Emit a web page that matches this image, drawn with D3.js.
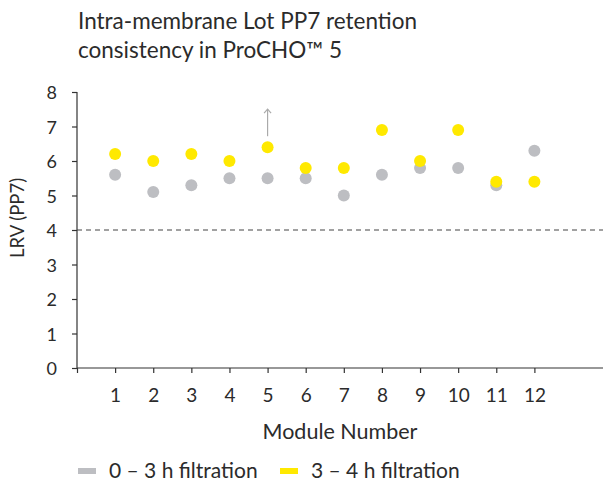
<html>
<head>
<meta charset="UTF-8">
<title>PP7 retention</title>
<script src="https://cdn.jsdelivr.net/npm/d3@7"></script>
<style>
  body { margin:0; background:#fff; }
  svg text { font-family: Lato, "Open Sans", sans-serif; fill:#2b2b2b; }
</style>
</head>
<body>
<svg id="chart" width="603" height="481"></svg>
<script>
// data
var modules = [1,2,3,4,5,6,7,8,9,10,11,12];
var early = [5.6,5.1,5.3,5.5,5.5,5.5,5.0,5.6,5.8,5.8,5.3,6.3];   // 0 - 3 h
var late  = [6.2,6.0,6.2,6.0,6.4,5.8,5.8,6.9,6.0,6.9,5.4,5.4];   // 3 - 4 h
var yTicks = [0,1,2,3,4,5,6,7,8];
var limit = 4;
var arrowAt = 5;   // module with ">" value
var seriesNames = ["0 \u2013 3 h filtration", "3 \u2013 4 h filtration"];
var colors = ["#bdbec2", "#ffe900"];

var svg = d3.select("#chart");

var x = d3.scaleLinear().domain([0, 13.8]).range([77, 603]);
var y = d3.scaleLinear().domain([0, 8]).range([368, 92]);

// title
svg.append("text").attr("x", 78).attr("y", 29).attr("font-size", 22.5).text("Intra-membrane Lot PP7 retention");
svg.append("text").attr("x", 78).attr("y", 58).attr("font-size", 22.5).text("consistency in ProCHO\u2122 5");

// y axis
var yAxis = svg.append("g").attr("transform", "translate(77,0)")
    .call(d3.axisLeft(y).tickValues(yTicks).tickSize(5).tickPadding(15));
yAxis.selectAll("text").attr("font-size", 18).attr("dy", "0.38em");
// x axis
var xAxis = svg.append("g").attr("transform", "translate(0," + y(0) + ")")
    .call(d3.axisBottom(x).tickValues([0].concat(modules)).tickSize(5).tickPadding(16)
      .tickFormat(function(d){ return d === 0 ? "" : d; }));
xAxis.selectAll("text").attr("font-size", 19);
svg.selectAll(".domain, .tick line").attr("stroke", "#333").attr("stroke-width", 1.2);
svg.selectAll(".domain").attr("d", function(){
  return this.parentNode === yAxis.node() ? "M0," + y(8) + "V" + y(0) : "M" + x(0) + ",0H603";
});

// limit line
svg.append("line").attr("x1", x(0)).attr("x2", 603).attr("y1", y(limit)).attr("y2", y(limit))
  .attr("stroke", "#444").attr("stroke-width", 1.2).attr("stroke-dasharray", "5,4");

// points
[early, late].forEach(function(vals, k){
  svg.append("g").selectAll("circle").data(vals).enter().append("circle")
    .attr("cx", function(d, i){ return x(modules[i]); })
    .attr("cy", function(d){ return y(d); })
    .attr("r", 6)
    .attr("fill", colors[k]);
});

// arrow above module 5
var ax = x(arrowAt), ay = y(late[modules.indexOf(arrowAt)]);
svg.append("line").attr("x1", ax).attr("x2", ax).attr("y1", ay - 11).attr("y2", ay - 38)
  .attr("stroke", "#aaa").attr("stroke-width", 1.2);
svg.append("path").attr("d", "M" + (ax - 3.5) + "," + (ay - 34) + "L" + ax + "," + (ay - 38) + "L" + (ax + 3.5) + "," + (ay - 34))
  .attr("fill", "none").attr("stroke", "#aaa").attr("stroke-width", 1.2);

// axis titles
svg.append("text").attr("transform", "translate(24,218) rotate(-90)")
  .attr("text-anchor", "middle").attr("font-size", 18.5).text("LRV (PP7)");
svg.append("text").attr("x", 340).attr("y", 439).attr("text-anchor", "middle")
  .attr("font-size", 21.5).text("Module Number");

// legend
var lx = [78, 280];
seriesNames.forEach(function(name, k){
  svg.append("rect").attr("x", lx[k]).attr("y", 468).attr("width", 18).attr("height", 6).attr("fill", colors[k]);
  svg.append("text").attr("x", lx[k] + 31).attr("y", 478).attr("font-size", 21).text(name);
});
</script>
</body>
</html>
